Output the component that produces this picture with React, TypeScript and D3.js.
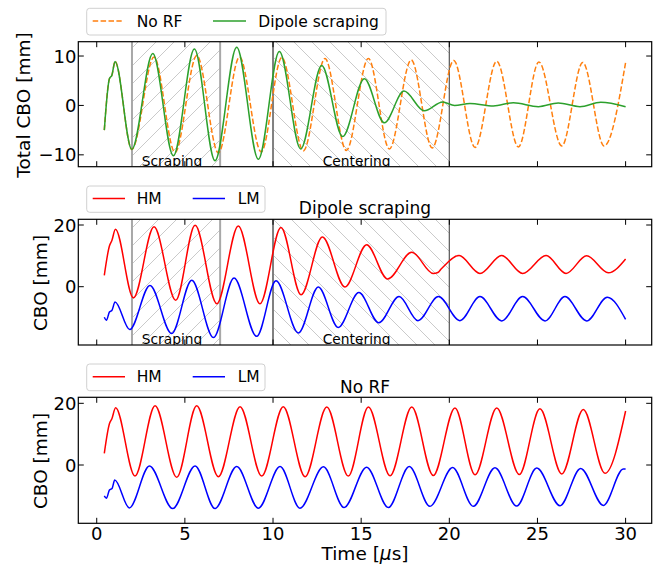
import React from 'react';
import * as d3 from 'd3';

type Pt = [number, number];

// Axis ticks
const xTicks = [0, 5, 10, 15, 20, 25, 30];
const totalTicks = [-10, 0, 10];
const cboTicks = [0, 20];

// Phase windows [µs]
const scrapingWindow: Pt = [2, 7];
const centeringWindow: Pt = [10, 20];

// Total CBO, no RF [time µs, mm]
const noRfTotal: Pt[] = [
  [0.43, -5.0], [0.72, 5.4], [0.86, 6.1], [1.04, 8.9], [1.99, -8.9], [3.25, 9.8],
  [4.44, -9.5], [5.68, 10.1], [6.9, -9.6], [8.1, 9.8], [9.33, -9.4], [10.5, 9.7],
  [11.72, -9.2], [12.95, 9.5], [14.16, -9.1], [15.41, 9.5], [16.6, -8.8], [17.84, 9.2],
  [19.03, -8.6], [20.25, 9.1], [21.46, -8.5], [22.69, 8.95], [23.92, -8.4], [25.08, 8.8],
  [26.38, -8.2], [27.57, 8.7], [28.78, -8.2], [30.0, 8.7],
];

// Total CBO, dipole scraping
const dipoleTotal: Pt[] = [
  [0.43, -5.0], [0.72, 5.4], [0.86, 6.1], [1.04, 8.9], [1.99, -8.9], [3.18, 10.5],
  [4.35, -10.2], [5.54, 11.4], [6.71, -11.2], [7.94, 11.8], [9.17, -10.9], [10.36, 10.9],
  [11.57, -8.8], [12.76, 8.1], [13.95, -6.3], [15.18, 5.4], [16.31, -3.5], [17.43, 2.9],
  [18.58, -1.1], [19.62, 0.7], [20.3, 0.0], [21.17, 0.4], [22.5, -0.1], [23.63, 0.55],
  [25.05, -0.25], [26.18, 0.5], [27.41, -0.25], [28.59, 0.65], [30.0, -0.25],
];

// Dipole scraping: high-momentum and low-momentum slices
const dipoleHM: Pt[] = [
  [0.43, 3.7], [0.72, 13.2], [0.86, 15.0], [1.06, 18.6], [2.08, -3.6], [3.25, 19.4],
  [4.48, -4.4], [5.58, 19.9], [6.81, -5.5], [8.03, 19.7], [9.26, -5.5], [10.45, 19.2],
  [11.59, -2.6], [12.8, 16.1], [14.08, -0.1], [15.31, 13.6], [16.5, 2.5], [17.87, 11.2],
  [19.09, 4.3], [19.35, 4.6], [19.55, 5.8], [20.55, 10.1], [21.74, 4.3], [22.97, 10.1],
  [24.16, 4.3], [25.49, 10.1], [26.62, 4.3], [27.79, 10.0], [29.02, 4.5], [30.0, 9.0],
];

const dipoleLM: Pt[] = [
  [0.43, -9.9], [0.55, -10.9], [0.72, -8.2], [0.86, -7.7], [1.04, -5.0], [1.87, -13.9],
  [3.02, 0.4], [4.25, -15.2], [5.39, 2.1], [6.62, -16.5], [7.79, 2.8], [9.07, -16.1],
  [10.17, 1.9], [11.44, -15.0], [12.57, -0.1], [13.7, -13.2], [14.87, -1.9], [16.0, -11.7],
  [17.15, -3.2], [18.22, -11.0], [19.38, -3.2], [20.6, -11.0], [21.74, -3.2], [22.97, -11.1],
  [24.16, -3.2], [25.43, -11.1], [26.56, -3.2], [27.79, -11.1], [28.96, -3.4], [30.0, -10.6],
];

// No RF: high-momentum and low-momentum slices
const noRfHM: Pt[] = [
  [0.43, 3.8], [0.72, 13.4], [0.86, 15.0], [1.07, 18.6], [2.17, -3.6], [3.31, 19.2],
  [4.54, -4.0], [5.67, 19.2], [6.9, -3.8], [8.13, 18.9], [9.36, -3.6], [10.58, 18.9],
  [11.82, -3.8], [13.05, 18.8], [14.27, -3.6], [15.41, 18.8], [16.64, -3.5], [17.87, 18.8],
  [19.09, -3.4], [20.32, 18.5], [21.46, -3.2], [22.69, 18.5], [23.97, -3.1], [25.14, 18.2],
  [26.38, -2.9], [27.6, 18.0], [28.83, -2.7], [30.0, 17.5],
];

const noRfLM: Pt[] = [
  [0.43, -10.0], [0.55, -10.8], [0.72, -8.1], [0.87, -7.6], [1.02, -4.9], [1.85, -13.9],
  [2.99, -0.3], [4.31, -14.1], [5.58, -0.3], [6.71, -14.1], [7.94, -0.5], [9.17, -14.0],
  [10.4, -0.5], [11.53, -14.0], [12.86, -0.6], [14.03, -13.8], [15.31, -0.7], [16.54, -13.8],
  [17.73, -0.5], [18.9, -13.4], [20.19, -0.8], [21.36, -13.4], [22.59, -0.9], [23.82, -13.3],
  [24.96, -1.0], [26.28, -13.2], [27.45, -1.1], [28.74, -13.1], [29.87, -1.3], [30.0, -1.3],
];

const FONT = '"DejaVu Sans", sans-serif';
const W = 660;
const H = 565;
const LEFT = 78.3;
const RIGHT = 651.7;
const TICK = 5.5;

const x = d3.scaleLinear().domain([-1.045, 31.48]).range([LEFT, RIGHT]);

const panels = [
  { id: 'p0', top: 41.7, bottom: 166.7, domain: [-12.4, 12.9] },
  { id: 'p1', top: 219.3, bottom: 345, domain: [-18.9, 21.85] },
  { id: 'p2', top: 397.3, bottom: 523.3, domain: [-18.9, 21.95] },
];

const fmt = (v: number) => (v < 0 ? '\u2212' + Math.abs(v) : String(v));

type Series = { data: Pt[]; color: string; dash?: string };
type LegendEntry = { label: string; color: string; dash?: string; x0: number; x1: number; tx: number };

function Legend({ x0, x1, y0, y1, entries }: { x0: number; x1: number; y0: number; y1: number; entries: LegendEntry[] }) {
  const cy = (y0 + y1) / 2 - 0.7;
  return (
    <g>
      <rect x={x0} y={y0} width={x1 - x0} height={y1 - y0} rx={3} ry={3} fill="#fff" fillOpacity={0.8} stroke="#d0d0d0" strokeWidth={1} />
      {entries.map((e) => (
        <g key={e.label}>
          <line x1={e.x0} x2={e.x1} y1={cy} y2={cy} stroke={e.color} strokeWidth={1.5} strokeDasharray={e.dash} />
          <text x={e.tx} y={cy + 5.6} fontSize={15.5} fontFamily={FONT} fill="#000">{e.label}</text>
        </g>
      ))}
    </g>
  );
}

function Panel({ p, ticks, series, phases, showX }: { p: typeof panels[number]; ticks: number[]; series: Series[]; phases: boolean; showX: boolean }) {
  const y = d3.scaleLinear().domain(p.domain).range([p.bottom, p.top]);
  const line = d3.line<Pt>().x((d) => x(d[0])).y((d) => y(d[1])).curve(d3.curveMonotoneX);
  const clipId = `clip-${p.id}`;
  return (
    <g>
      <defs>
        <clipPath id={clipId}>
          <rect x={LEFT} y={p.top} width={RIGHT - LEFT} height={p.bottom - p.top} />
        </clipPath>
      </defs>
      {phases && (
        <g clipPath={`url(#${clipId})`}>
          <rect x={x(scrapingWindow[0])} y={p.top} width={x(scrapingWindow[1]) - x(scrapingWindow[0])} height={p.bottom - p.top} fill="url(#hatchFwd)" />
          <rect x={x(centeringWindow[0])} y={p.top} width={x(centeringWindow[1]) - x(centeringWindow[0])} height={p.bottom - p.top} fill="url(#hatchBack)" />
          <line x1={x(2)} x2={x(2)} y1={p.top} y2={p.bottom} stroke="#a8a8a8" strokeWidth={2} />
          <line x1={x(7)} x2={x(7)} y1={p.top} y2={p.bottom} stroke="#a8a8a8" strokeWidth={2} />
          <line x1={x(10)} x2={x(10)} y1={p.top} y2={p.bottom} stroke="#808080" strokeWidth={2} />
          <line x1={x(20)} x2={x(20)} y1={p.top} y2={p.bottom} stroke="#555" strokeWidth={1.2} />
          <text x={x(2.55)} y={p.bottom - 0.6} fontSize={13.8} fontFamily={FONT} fill="#000">Scraping</text>
          <text x={x(12.82)} y={p.bottom - 0.6} fontSize={13.8} fontFamily={FONT} fill="#000">Centering</text>
        </g>
      )}
      <g clipPath={`url(#${clipId})`}>
        {series.map((s, i) => (
          <path key={i} d={line(s.data) || ''} fill="none" stroke={s.color} strokeWidth={1.5} strokeDasharray={s.dash} strokeLinejoin="round" />
        ))}
      </g>
      <rect x={LEFT} y={p.top} width={RIGHT - LEFT} height={p.bottom - p.top} fill="none" stroke="#000" strokeWidth={1.2} />
      {xTicks.map((t) => (
        <g key={'x' + t}>
          <line x1={x(t)} x2={x(t)} y1={p.bottom} y2={p.bottom - TICK} stroke="#000" strokeWidth={1} />
          <line x1={x(t)} x2={x(t)} y1={p.top} y2={p.top + TICK} stroke="#000" strokeWidth={1} />
          {showX && (
            <text x={x(t)} y={p.bottom + 16.7} fontSize={18} fontFamily={FONT} textAnchor="middle" fill="#000">{t}</text>
          )}
        </g>
      ))}
      {ticks.map((t) => (
        <g key={'y' + t}>
          <line x1={LEFT} x2={LEFT + TICK} y1={y(t)} y2={y(t)} stroke="#000" strokeWidth={1} />
          <line x1={RIGHT} x2={RIGHT - TICK} y1={y(t)} y2={y(t)} stroke="#000" strokeWidth={1} />
          <text x={76.5} y={y(t) + 6.5} fontSize={18} fontFamily={FONT} textAnchor="end" fill="#000">{fmt(t)}</text>
        </g>
      ))}
    </g>
  );
}

export default function App() {
  const S = 18;
  return (
    <svg width={W} height={H} viewBox={`0 0 ${W} ${H}`} style={{ position: 'absolute', left: 0, top: 0, background: '#fff' }}>
      <defs>
        <pattern id="hatchFwd" patternUnits="userSpaceOnUse" width={S} height={S}>
          <path d={`M-4,4 L4,-4 M0,${S} L${S},0 M${S - 4},${S + 4} L${S + 4},${S - 4}`} stroke="#c4c4c4" strokeWidth={0.9} />
        </pattern>
        <pattern id="hatchBack" patternUnits="userSpaceOnUse" width={S} height={S}>
          <path d={`M-4,${S - 4} L4,${S + 4} M0,0 L${S},${S} M${S - 4},-4 L${S + 4},4`} stroke="#c4c4c4" strokeWidth={0.9} />
        </pattern>
      </defs>
      <rect width={W} height={H} fill="#fff" />

      <Panel p={panels[0]} ticks={totalTicks} phases showX={false}
        series={[
          { data: noRfTotal, color: '#ff7f0e', dash: '5.5 2.4' },
          { data: dipoleTotal, color: '#2ca02c' },
        ]} />
      <Panel p={panels[1]} ticks={cboTicks} phases showX={false}
        series={[
          { data: dipoleHM, color: '#ff0000' },
          { data: dipoleLM, color: '#0000ff' },
        ]} />
      <Panel p={panels[2]} ticks={cboTicks} phases={false} showX
        series={[
          { data: noRfHM, color: '#ff0000' },
          { data: noRfLM, color: '#0000ff' },
        ]} />

      {/* y-axis labels */}
      <text transform="translate(30,105) rotate(-90)" fontSize={18.5} fontFamily={FONT} textAnchor="middle" fill="#000">Total CBO [mm]</text>
      <text transform="translate(46.5,283) rotate(-90)" fontSize={18.5} fontFamily={FONT} textAnchor="middle" fill="#000">CBO [mm]</text>
      <text transform="translate(46.5,461) rotate(-90)" fontSize={18.5} fontFamily={FONT} textAnchor="middle" fill="#000">CBO [mm]</text>

      {/* x-axis label */}
      <text x={365} y={560} fontSize={18.5} fontFamily={FONT} textAnchor="middle" fill="#000">
        Time [<tspan fontStyle="italic">μ</tspan>s]
      </text>

      {/* panel titles */}
      <text x={365} y={214.3} fontSize={17} fontFamily={FONT} textAnchor="middle" fill="#000">Dipole scraping</text>
      <text x={365} y={393.3} fontSize={17} fontFamily={FONT} textAnchor="middle" fill="#000">No RF</text>

      {/* legends */}
      <Legend x0={86.7} x1={386} y0={8.3} y1={35}
        entries={[
          { label: 'No RF', color: '#ff7f0e', dash: '5.5 2.4', x0: 92.7, x1: 121.7, tx: 136.7 },
          { label: 'Dipole scraping', color: '#2ca02c', x0: 213, x1: 246, tx: 258.3 },
        ]} />
      <Legend x0={86.7} x1={265} y0={186} y1={212.3}
        entries={[
          { label: 'HM', color: '#ff0000', x0: 92.7, x1: 125, tx: 136.7 },
          { label: 'LM', color: '#0000ff', x0: 192.7, x1: 225, tx: 237.7 },
        ]} />
      <Legend x0={86.7} x1={265} y0={364} y1={390.7}
        entries={[
          { label: 'HM', color: '#ff0000', x0: 92.7, x1: 125, tx: 136.7 },
          { label: 'LM', color: '#0000ff', x0: 192.7, x1: 225, tx: 237.7 },
        ]} />
    </svg>
  );
}
